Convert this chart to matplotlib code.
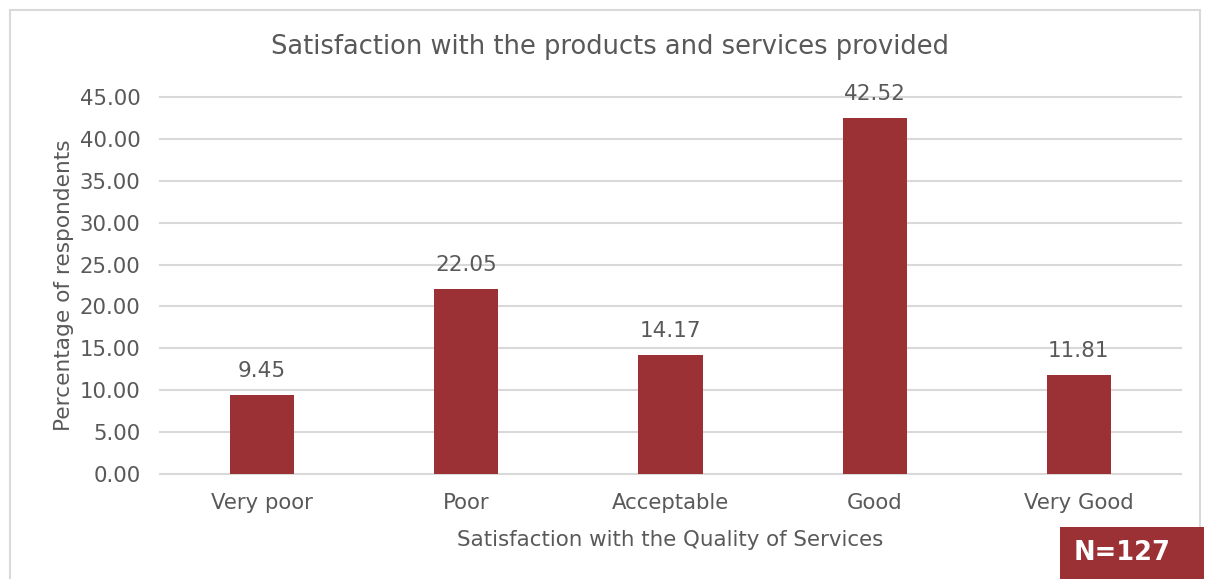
import matplotlib
matplotlib.use("Agg")
import matplotlib.pyplot as plt
from matplotlib.patches import Rectangle

categories = ["Very poor", "Poor", "Acceptable", "Good", "Very Good"]
percentages = [9.45, 22.05, 14.17, 42.52, 11.81]
y_ticks = [0, 5, 10, 15, 20, 25, 30, 35, 40, 45]

bar_color = "#9B3135"
text_color = "#595959"
grid_color = "#D9D9D9"

plt.rcParams["font.family"] = ["DejaVu Sans"]

W, H = 1206, 579
fig = plt.figure(figsize=(W / 100, H / 100), dpi=100)

# outer chart frame
fig.patches.append(Rectangle((10 / W, -0.05), (1200 - 10) / W, (H - 10) / H + 0.05,
                             transform=fig.transFigure, fill=False,
                             edgecolor="#D9D9D9", linewidth=1.5))

ax = fig.add_axes([160 / W, (H - 474) / H, (1181 - 160) / W, (474 - 97) / H])
x = range(len(categories))
ax.bar(x, percentages, width=0.315, color=bar_color, zorder=3)
for xi, v in zip(x, percentages):
    ax.text(xi, v + 1.7, f"{v:.2f}", ha="center", va="bottom",
            fontsize=15.5, color=text_color)

ax.set_xlim(-0.5, len(categories) - 0.5)
ax.set_ylim(0, 45)
ax.set_yticks(y_ticks)
ax.set_yticklabels([f"{t:.2f}" for t in y_ticks])
ax.set_xticks(list(x))
ax.set_xticklabels(categories)
ax.tick_params(axis="both", length=0, labelsize=15.3, colors=text_color)
ax.tick_params(axis="y", pad=14)
ax.tick_params(axis="x", pad=14)
ax.grid(axis="y", color=grid_color, linewidth=1.5, zorder=0)
for gl in ax.get_ygridlines():
    gl.set_clip_on(False)
for s in ax.spines.values():
    s.set_visible(False)

ax.set_xlabel("Satisfaction with the Quality of Services", fontsize=15.4,
              color=text_color, labelpad=12)
ax.set_ylabel("Percentage of respondents", fontsize=15.6, color=text_color,
              labelpad=4)

fig.text(610 / W, 1 - 47 / H, "Satisfaction with the products and services provided",
         ha="center", va="center", fontsize=18.5, color=text_color)

# sample size badge
fig.patches.append(Rectangle((1060 / W, 0.0), (1204 - 1060) / W, (579 - 527) / H,
                             transform=fig.transFigure, facecolor=bar_color,
                             edgecolor="none"))
fig.text(1122 / W, 1 - 553 / H, "N=127", ha="center", va="center",
         fontsize=18.5, fontweight="bold", color="white")

fig.savefig("out.png", dpi=100, facecolor="white")
